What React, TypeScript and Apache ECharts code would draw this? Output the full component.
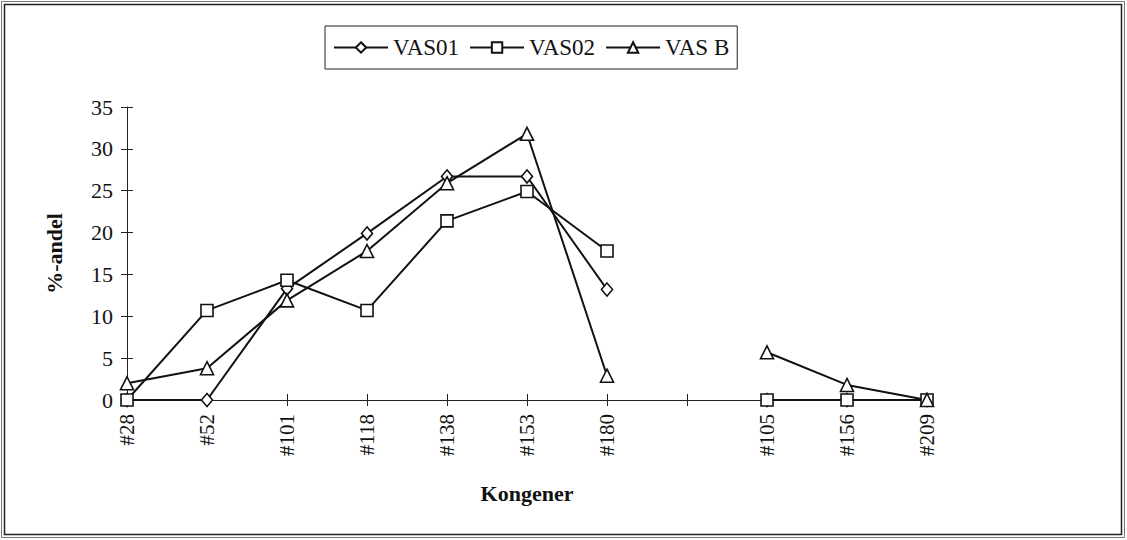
import React, { useEffect, useRef } from "react";
import * as echarts from "echarts";

const categories = ["#28", "#52", "#101", "#118", "#138", "#153", "#180", "", "#105", "#156", "#209"];
const vas01 = [0, 0, 13.3, 19.9, 26.7, 26.7, 13.2, null, 0, 0, 0];
const vas02 = [0, 10.7, 14.3, 10.7, 21.4, 24.9, 17.8, null, 0, 0, 0];
const vasB = [2, 3.8, 11.9, 17.8, 25.9, 31.8, 2.9, null, 5.7, 1.8, 0];
const seriesNames = ["VAS01", "VAS02", "VAS B"];
const yTicks = { min: 0, max: 35, interval: 5 };

const SERIF = "'Times New Roman', 'Liberation Serif', serif";

export default function App() {
  const ref = useRef<HTMLDivElement>(null);
  useEffect(() => {
    if (!ref.current) return;
    const chart = echarts.init(ref.current, null, { renderer: "svg" });
    const mk = (name: string, data: (number | null)[], symbol: string, size: number | number[]) => ({
      name,
      type: "line",
      data,
      xAxisIndex: 0,
      yAxisIndex: 0,
      symbol,
      symbolSize: size,
      showSymbol: true,
      connectNulls: false,
      lineStyle: { color: "#111", width: 2 },
      itemStyle: { color: "#fff", borderColor: "#111", borderWidth: 1.6 },
      emphasis: { disabled: true },
    });
    chart.setOption({
      animation: false,
      backgroundColor: "#fff",
      textStyle: { fontFamily: SERIF, color: "#111" },
      legend: {
        left: 325,
        top: 26,
        padding: [10, 8, 10, 8],
        itemGap: 10,
        itemWidth: 54,
        itemHeight: 13,
        borderColor: "#222",
        borderWidth: 1,
        data: seriesNames,
        textStyle: { fontFamily: SERIF, fontSize: 23, color: "#111" },
      },
      grid: { left: 127, right: 200, top: 107, bottom: 140, containLabel: false },
      xAxis: [
        {
          type: "category",
          data: categories,
          boundaryGap: false,
          name: "Kongener",
          nameLocation: "middle",
          nameGap: 82,
          nameTextStyle: { fontFamily: SERIF, fontSize: 22, fontWeight: "bold", color: "#111" },
          axisLine: { lineStyle: { color: "#222", width: 1 } },
          axisTick: { show: true, alignWithLabel: true, length: 6, lineStyle: { color: "#222" }, interval: 0 },
          axisLabel: { rotate: 90, interval: 0, margin: 14, fontFamily: SERIF, fontSize: 21, color: "#111" },
          splitLine: { show: false },
        },
        {
          type: "category",
          data: categories,
          boundaryGap: false,
          position: "bottom",
          axisLine: { show: false },
          axisTick: { show: true, inside: true, length: 6, lineStyle: { color: "#222" }, interval: 0 },
          axisLabel: { show: false },
          splitLine: { show: false },
        },
      ],
      yAxis: [
        {
          type: "value",
          min: yTicks.min,
          max: yTicks.max,
          interval: yTicks.interval,
          name: "%-andel",
          nameLocation: "middle",
          nameGap: 62,
          nameRotate: 90,
          nameTextStyle: { fontFamily: SERIF, fontSize: 22, fontWeight: "bold", color: "#111" },
          axisLine: { show: true, lineStyle: { color: "#222", width: 1 } },
          axisTick: { show: true, length: 6, lineStyle: { color: "#222" } },
          axisLabel: { margin: 14, fontFamily: SERIF, fontSize: 22, color: "#111" },
          splitLine: { show: false },
        },
        {
          type: "value",
          min: yTicks.min,
          max: yTicks.max,
          interval: yTicks.interval,
          position: "left",
          axisLine: { show: false },
          axisTick: { show: true, inside: true, length: 6, lineStyle: { color: "#222" } },
          axisLabel: { show: false },
          splitLine: { show: false },
        },
      ],
      graphic: [
        { type: "rect", shape: { x: 1.5, y: 1.5, width: 1123, height: 536 }, style: { fill: "none", stroke: "#777", lineWidth: 1 }, silent: true },
        { type: "rect", shape: { x: 4.5, y: 4.5, width: 1117, height: 530 }, style: { fill: "none", stroke: "#222", lineWidth: 1.5 }, silent: true },
      ],
      series: [
        mk(seriesNames[0], vas01, "diamond", [11, 13]),
        mk(seriesNames[1], vas02, "rect", 12),
        mk(seriesNames[2], vasB, "triangle", 13),
      ],
    });
    return () => chart.dispose();
  }, []);
  return (
    <div
      ref={ref}
      style={{ position: "fixed", left: 0, top: 0, width: 1127, height: 540, background: "#fff" }}
    />
  );
}
